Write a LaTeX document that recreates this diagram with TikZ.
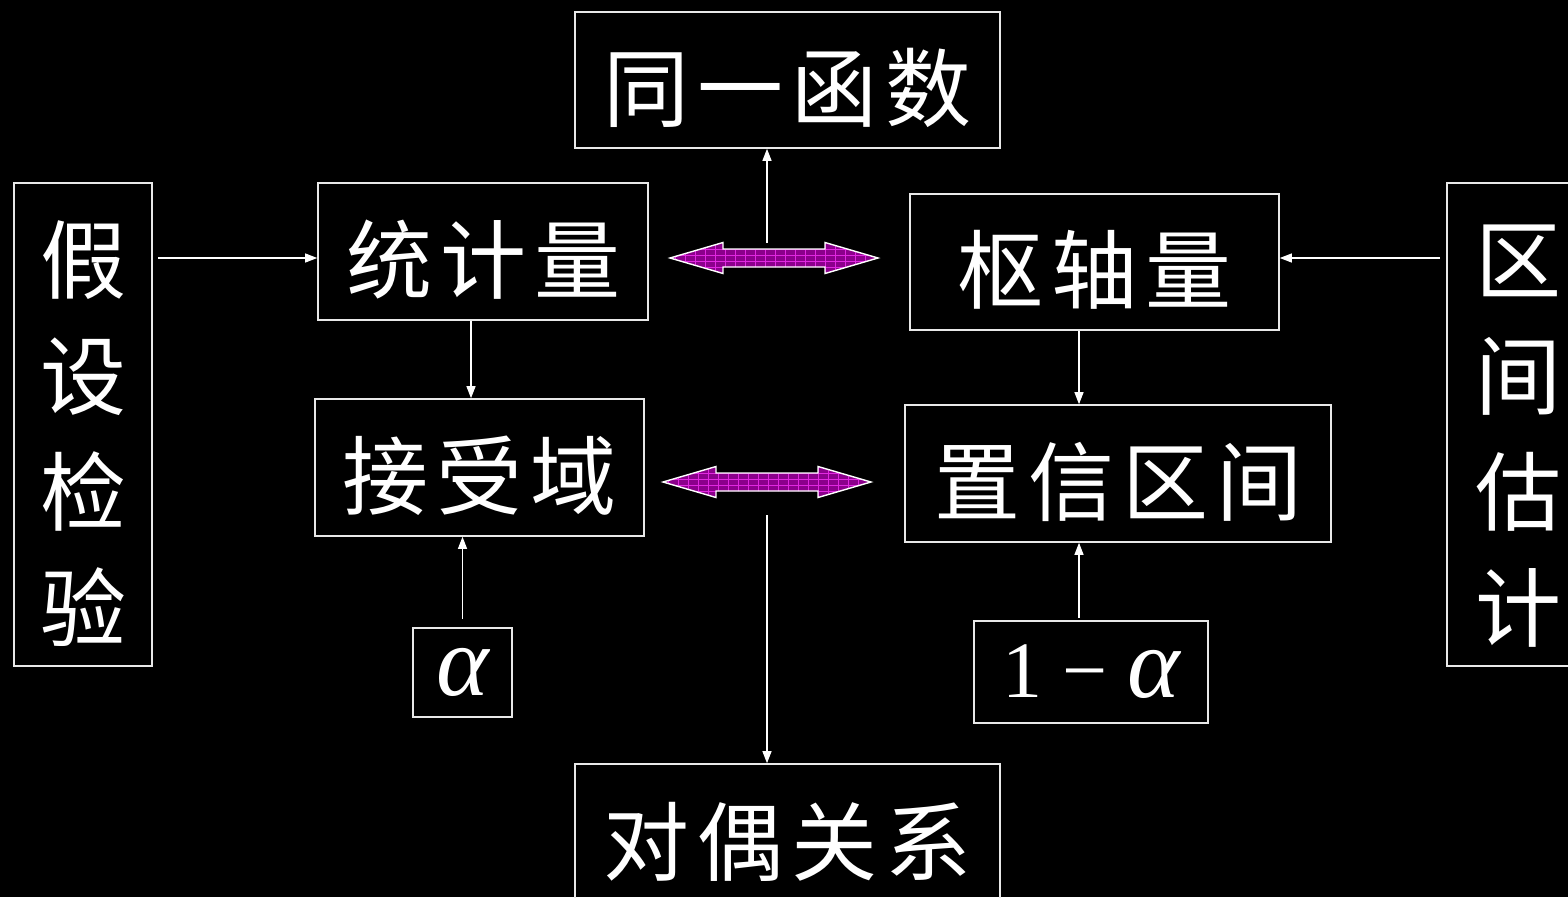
\documentclass[tikz,border=0pt]{standalone}
\usepackage{fontspec}
\newfontfamily\cjk{Noto Sans CJK SC}
\newfontfamily\tms{Liberation Serif}
\usetikzlibrary{arrows.meta}
\definecolor{arrpurple}{RGB}{140,0,140}
\definecolor{gridmag}{RGB}{225,40,225}
\definecolor{boxline}{RGB}{232,232,232}
\newcommand\lsp{\kern8pt}
\newcommand\lowr[1]{\raisebox{-8pt}[\height][\depth]{#1}}
\newcommand\vtext[1]{\raisebox{-19pt}[\height][\depth]{\begin{tabular}{@{}c@{}}#1\end{tabular}}}
\begin{document}
\begin{tikzpicture}[x=1pt,y=-1pt,
  box/.style={draw=boxline, line width=1.6pt, inner sep=0pt, text=white,
    font=\cjk\fontsize{86}{86}\selectfont},
  vbox/.style={box, font=\cjk\fontsize{86}{116}\selectfont},
  mbox/.style={draw=boxline, line width=1.6pt, inner sep=0pt, text=white,
    font=\tms\fontsize{80}{80}\selectfont},
  conn/.style={draw=white, line width=1.1pt, -{Triangle[length=12pt,width=9pt]}},
  dblarr/.pic={
    \def\arrp{(0,0) -- (53,-15.5) -- (53,-9) -- (155,-9) -- (155,-15.5) -- (208,0) -- (155,15.5) -- (155,9) -- (53,9) -- (53,15.5) -- cycle}
    \fill[arrpurple] \arrp;
    \begin{scope}
      \clip \arrp;
      \foreach \gx in {5,15,...,205} \draw[gridmag, line width=0.7pt] (\gx,-20) -- (\gx,20);
      \foreach \gy in {-9,-3,3,9} \draw[gridmag, line width=0.7pt] (0,\gy) -- (210,\gy);
    \end{scope}
    \draw[white, line width=1.4pt, line join=miter] \arrp;
  }]
\fill[black] (0,0) rectangle (1568,897);
\useasboundingbox (0,0) rectangle (1568,897);

% boxes
\node[box, minimum width=425, minimum height=136] (top) at (787.5,80) {\lowr{同\lsp 一\lsp 函\lsp 数}};
\node[vbox, minimum width=138, minimum height=483] (hyp) at (83,424.5) {\vtext{假\\设\\检\\验}};
\node[box, minimum width=330, minimum height=137] (stat) at (483,251.5) {\lowr{统\lsp 计\lsp 量}};
\node[box, minimum width=369, minimum height=136] (pivot) at (1094.5,262) {\lowr{枢\lsp 轴\lsp 量}};
\node[vbox, minimum width=142, minimum height=483] (iest) at (1518,424.5) {\vtext{区\\间\\估\\计}};
\node[box, minimum width=329, minimum height=137] (accept) at (479.5,467.5) {\lowr{接\lsp 受\lsp 域}};
\node[box, minimum width=426, minimum height=137] (conf) at (1118,473.5) {\lowr{置\lsp 信\lsp 区\lsp 间}};
\node[mbox, minimum width=99, minimum height=89] (alpha) at (462.5,672.5) {\fontsize{100}{100}\selectfont\itshape α};
\node[mbox, minimum width=234, minimum height=102] (oma) at (1091,672) {1 − {\fontsize{100}{100}\selectfont\itshape α}};
\node[box, minimum width=425, minimum height=140] (dual) at (787.5,834) {\lowr{对\lsp 偶\lsp 关\lsp 系}};

% connectors
\coordinate (hL) at (158,258);
\coordinate (iR) at (1440,258);
\coordinate (c1) at (471,0);
\coordinate (c2) at (1079,0);
\coordinate (up) at (767,243);
\coordinate (dn) at (767,515);
\draw[conn] (hL) -- (hL -| stat.west);
\draw[conn] (iR) -- (iR -| pivot.east);
\draw[conn] (stat.south -| c1) -- (accept.north -| c1);
\draw[conn] (pivot.south -| c2) -- (conf.north -| c2);
\draw[conn] ([yshift=8pt]alpha.north) -- (alpha.north |- accept.south);
\draw[conn] ([yshift=2pt]oma.north -| c2) -- (conf.south -| c2);
\draw[conn] (up) -- (up |- top.south);
\draw[conn] (dn) -- (dn |- dual.north);

% purple double arrows
\pic at (670,258) {dblarr};
\pic at (663,482) {dblarr};
\end{tikzpicture}
\end{document}
